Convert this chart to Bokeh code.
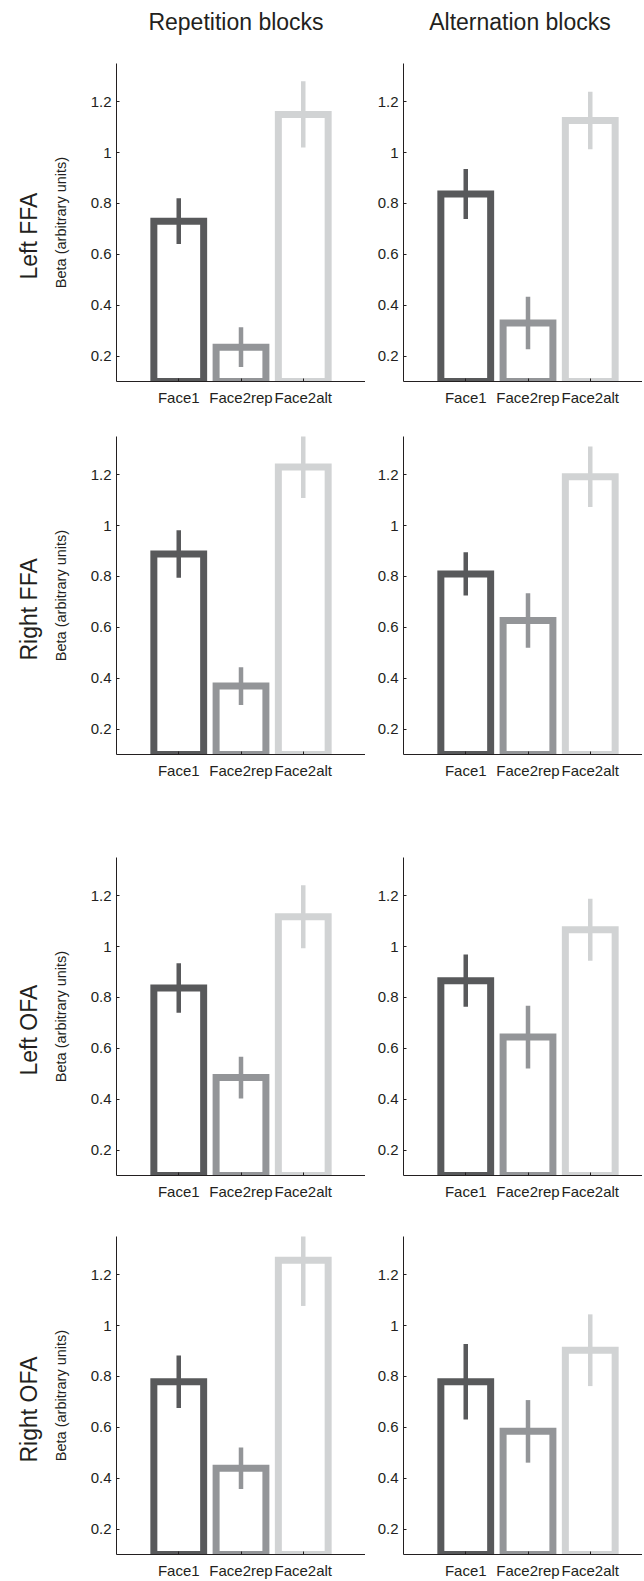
from bokeh.plotting import figure
from bokeh.models import FixedTicker, Title, Range1d, ColumnDataSource, Label
from bokeh.layouts import column, row
from bokeh.embed import file_html
from bokeh.resources import INLINE

# ---------------- data ----------------
categories = ["Face1", "Face2rep", "Face2alt"]
regions = ["Left FFA", "Right FFA", "Left OFA", "Right OFA"]
conditions = ["Repetition blocks", "Alternation blocks"]
y_ticks = [0.2, 0.4, 0.6, 0.8, 1.0, 1.2]
y_tick_labels = ["0.2", "0.4", "0.6", "0.8", "1", "1.2"]

left_ffa_rep_mean = [0.730, 0.235, 1.150]
left_ffa_rep_err = [0.090, 0.078, 0.130]
left_ffa_alt_mean = [0.837, 0.330, 1.126]
left_ffa_alt_err = [0.098, 0.103, 0.113]

right_ffa_rep_mean = [0.888, 0.369, 1.230]
right_ffa_rep_err = [0.093, 0.074, 0.122]
right_ffa_alt_mean = [0.810, 0.627, 1.192]
right_ffa_alt_err = [0.085, 0.107, 0.119]

left_ofa_rep_mean = [0.837, 0.485, 1.117]
left_ofa_rep_err = [0.097, 0.082, 0.124]
left_ofa_alt_mean = [0.866, 0.644, 1.066]
left_ofa_alt_err = [0.103, 0.123, 0.122]

right_ofa_rep_mean = [0.779, 0.439, 1.257]
right_ofa_rep_err = [0.103, 0.082, 0.180]
right_ofa_alt_mean = [0.779, 0.584, 0.903]
right_ofa_alt_err = [0.148, 0.123, 0.141]

panel_means = [
    [left_ffa_rep_mean, left_ffa_alt_mean],
    [right_ffa_rep_mean, right_ffa_alt_mean],
    [left_ofa_rep_mean, left_ofa_alt_mean],
    [right_ofa_rep_mean, right_ofa_alt_mean],
]
panel_errs = [
    [left_ffa_rep_err, left_ffa_alt_err],
    [right_ffa_rep_err, right_ffa_alt_err],
    [left_ofa_rep_err, left_ofa_alt_err],
    [right_ofa_rep_err, right_ofa_alt_err],
]

# ---------------- style ----------------
bar_colors = ["#58595b", "#939598", "#d1d3d4"]
TXT = "#231f20"
FONT = "Liberation Sans"
Y_MIN, Y_MAX = 0.1, 1.35
FRAME_H = 318
LEFT_FW, RIGHT_FW = 249, 239
LEFT_BORDER, GAP_BORDER = 116, 38
PX_PER_UNIT = 62.25
STRIP_H = 38

top_borders = [25, 25, 73, 31]
bottom_borders = [30, 30, 30, 25]
region_label_offsets = [102, 94, 100, 92]
title_centers = [235.5, 519.5]   # horizontal centres of the column titles (px)


def make_title_strip():
    total_w = LEFT_BORDER + LEFT_FW + GAP_BORDER + RIGHT_FW
    s = figure(width=total_w, height=STRIP_H, min_border=0,
               x_range=Range1d(0, total_w), y_range=Range1d(0, STRIP_H),
               output_backend="svg", toolbar_location=None,
               border_fill_color="white", background_fill_color="white")
    s.outline_line_color = None
    s.axis.visible = False
    s.grid.visible = False
    for cx, txt in zip(title_centers, conditions):
        s.add_layout(Label(x=cx, y=STRIP_H - 21, text=txt,
                           text_align="center", text_baseline="middle",
                           text_font=FONT, text_font_size="23px",
                           text_color=TXT))
    return s


def make_panel(ri, ci):
    means = panel_means[ri][ci]
    errs = panel_errs[ri][ci]
    xs = list(range(1, len(categories) + 1))
    fw = LEFT_FW if ci == 0 else RIGHT_FW
    x_end = fw / PX_PER_UNIT
    p = figure(
        frame_width=fw,
        frame_height=FRAME_H,
        x_range=Range1d(0, x_end),
        y_range=Range1d(Y_MIN, Y_MAX),
        output_backend="svg",
        toolbar_location=None,
        min_border_left=LEFT_BORDER if ci == 0 else GAP_BORDER,
        min_border_right=0,
        min_border_top=top_borders[ri],
        min_border_bottom=bottom_borders[ri],
        background_fill_color="white",
        border_fill_color="white",
    )
    p.outline_line_color = None
    p.xgrid.visible = False
    p.ygrid.visible = False

    src = ColumnDataSource(dict(
        x=xs,
        top=means,
        lo=[m - e for m, e in zip(means, errs)],
        hi=[m + e for m, e in zip(means, errs)],
        color=bar_colors,
    ))
    p.vbar(x="x", top="top", bottom=Y_MIN, width=0.8, source=src,
           fill_color="white", line_color="color", line_width=7,
           line_join="miter")
    p.segment(x0="x", y0="lo", x1="x", y1="hi", source=src,
              line_color="color", line_width=4.5)

    # axes
    p.xaxis.ticker = FixedTicker(ticks=xs)
    p.xaxis.major_label_overrides = {x: c for x, c in zip(xs, categories)}
    p.yaxis.ticker = FixedTicker(ticks=y_ticks)
    p.yaxis.major_label_overrides = {t: l for t, l in zip(y_ticks, y_tick_labels)}
    for ax in (p.xaxis[0], p.yaxis[0]):
        ax.axis_line_color = TXT
        ax.axis_line_width = 1
        ax.major_tick_in = 3
        ax.major_tick_out = 0
        ax.major_tick_line_color = TXT
        ax.minor_tick_line_color = None
        ax.major_label_text_font = FONT
        ax.major_label_text_font_size = "15px"
        ax.major_label_text_color = TXT
    p.xaxis.major_label_standoff = 7
    p.yaxis.major_label_standoff = 5

    if ci == 0:
        p.yaxis.axis_label = "Beta (arbitrary units)"
        p.yaxis.axis_label_text_font = FONT
        p.yaxis.axis_label_text_font_size = "14.5px"
        p.yaxis.axis_label_text_font_style = "normal"
        p.yaxis.axis_label_text_color = TXT
        p.yaxis.axis_label_standoff = 19
        p.add_layout(Title(text=regions[ri], align="left",
                           offset=region_label_offsets[ri],
                           text_font=FONT, text_font_size="23px",
                           text_font_style="normal", text_color=TXT,
                           standoff=16), "left")
    return p


rows = [row([make_title_strip()], spacing=0)]
for ri in range(len(regions)):
    rows.append(row([make_panel(ri, 0), make_panel(ri, 1)], spacing=0))

layout = column(rows, spacing=0)

open("out.html", "w").write(file_html(layout, INLINE))
